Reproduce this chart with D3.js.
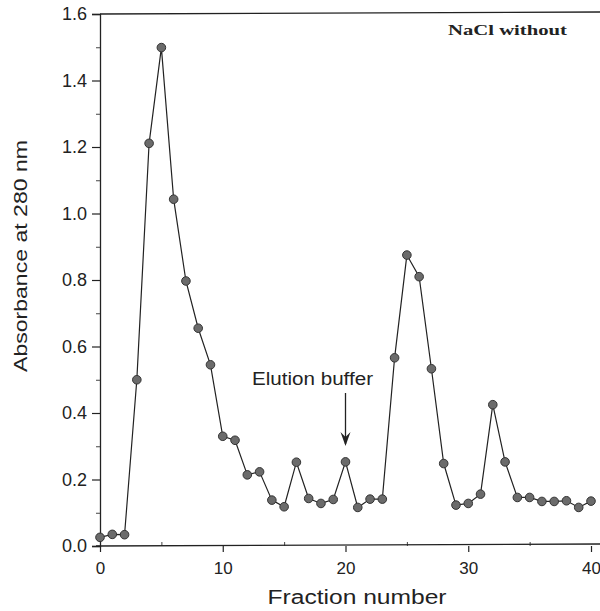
<!DOCTYPE html>
<html>
<head>
<meta charset="utf-8">
<script src="https://cdn.jsdelivr.net/npm/d3@7"></script>
<style>
  html, body { margin: 0; padding: 0; background: #fff; }
  svg { display: block; }
</style>
</head>
<body>
<svg id="chart" width="600" height="611"></svg>
<script>
// ---- data ----
const fractions = d3.range(0, 41);
const absorbance = [
  0.026, 0.035, 0.034, 0.50, 1.211, 1.499, 1.043, 0.797, 0.655, 0.545,
  0.330, 0.318, 0.214, 0.223, 0.138, 0.118, 0.252, 0.143, 0.128, 0.140,
  0.253, 0.116, 0.141, 0.141, 0.566, 0.875, 0.810, 0.533, 0.248, 0.123,
  0.128, 0.156, 0.425, 0.253, 0.146, 0.146, 0.134, 0.134, 0.136, 0.116,
  0.135
];
const xTicks = [0, 10, 20, 30, 40];
const xMinorTicks = [5, 15, 25, 35];
const yTicks = [0.0, 0.2, 0.4, 0.6, 0.8, 1.0, 1.2, 1.4, 1.6];
const yMinorTicks = [0.1, 0.3, 0.5, 0.7, 0.9, 1.1, 1.3, 1.5];
const xTitle = "Fraction number";
const yTitle = "Absorbance at 280 nm";
const panelLabel = "NaCl without";
const annotationText = "Elution buffer";
const annotationFraction = 20;

// ---- layout ----
const svg = d3.select("#chart");
const x = d3.scaleLinear().domain([0, 40]).range([100, 591]);
const y = d3.scaleLinear().domain([0, 1.6]).range([546, 14]);
const font = "Liberation Sans, Arial, Helvetica, sans-serif";

// y axis
const yAxis = svg.append("g").attr("transform", `translate(${x(0)},0)`)
  .call(d3.axisLeft(y).tickValues(yTicks).tickFormat(d3.format(".1f")).tickSize(8).tickPadding(5));
yAxis.select(".domain").attr("stroke", "#222").attr("stroke-width", 1.3);
yAxis.selectAll(".tick line").attr("stroke", "#222").attr("stroke-width", 1.2);
yAxis.selectAll(".tick text").attr("font-family", font).attr("font-size", 18).attr("fill", "#222");
svg.append("g").attr("transform", `translate(${x(0)},0)`)
  .call(d3.axisLeft(y).tickValues(yMinorTicks).tickFormat("").tickSize(4))
  .call(g => g.select(".domain").remove())
  .selectAll("line").attr("stroke", "#444");

// x axis
const xAxis = svg.append("g").attr("transform", `translate(0,${y(0)})`)
  .call(d3.axisBottom(x).tickValues(xTicks).tickFormat(d3.format("d")).tickSize(6).tickPadding(10));
xAxis.select(".domain").remove();
xAxis.selectAll(".tick line").attr("stroke", "#222").attr("stroke-width", 1.2);
xAxis.selectAll(".tick text").attr("font-family", font).attr("font-size", 17).attr("fill", "#222");
svg.append("g").attr("transform", `translate(0,${y(0)})`)
  .call(d3.axisTop(x).tickValues(xMinorTicks).tickFormat("").tickSize(4))
  .call(g => g.select(".domain").remove())
  .selectAll("line").attr("stroke", "#444");
svg.append("line")
  .attr("x1", x(0) - 4).attr("x2", 600).attr("y1", y(0)).attr("y2", y(0) - 2)
  .attr("stroke", "#222").attr("stroke-width", 1.3);

// top frame line
svg.append("line")
  .attr("x1", x(0)).attr("x2", 600).attr("y1", y(1.6)).attr("y2", y(1.6) - 2)
  .attr("stroke", "#222").attr("stroke-width", 1.3);

// axis titles
svg.append("text")
  .attr("x", 357).attr("y", 604)
  .attr("text-anchor", "middle")
  .attr("font-family", font).attr("font-size", 20).attr("fill", "#222")
  .attr("textLength", 179).attr("lengthAdjust", "spacingAndGlyphs")
  .text(xTitle);
svg.append("text")
  .attr("transform", "translate(27,256) rotate(-90)")
  .attr("text-anchor", "middle")
  .attr("font-family", font).attr("font-size", 19).attr("fill", "#222")
  .attr("textLength", 232).attr("lengthAdjust", "spacingAndGlyphs")
  .text(yTitle);

// panel label
svg.append("text")
  .attr("x", 448).attr("y", 35)
  .attr("font-family", "Liberation Serif, Times New Roman, serif")
  .attr("font-weight", "bold").attr("font-size", 15).attr("fill", "#222")
  .attr("textLength", 119).attr("lengthAdjust", "spacingAndGlyphs")
  .text(panelLabel);

// annotation
svg.append("text")
  .attr("x", 252).attr("y", 385)
  .attr("font-family", font).attr("font-size", 18).attr("fill", "#222")
  .attr("textLength", 121).attr("lengthAdjust", "spacingAndGlyphs")
  .text(annotationText);
const ax = x(annotationFraction);
svg.append("line")
  .attr("x1", ax).attr("x2", ax).attr("y1", 393).attr("y2", 444)
  .attr("stroke", "#222").attr("stroke-width", 1.3);
svg.append("path")
  .attr("d", `M${ax - 5},${432} L${ax},${446} L${ax + 5},${432} L${ax},${437} Z`)
  .attr("fill", "#222");

// line
const line = d3.line().x((d, i) => x(fractions[i])).y(d => y(d));
svg.append("path")
  .datum(absorbance)
  .attr("d", line)
  .attr("fill", "none").attr("stroke", "#222").attr("stroke-width", 1.2);

// markers
svg.append("g").selectAll("circle")
  .data(absorbance)
  .join("circle")
  .attr("cx", (d, i) => x(fractions[i]))
  .attr("cy", d => y(d))
  .attr("r", 4.3)
  .attr("fill", "#6b6b6b")
  .attr("stroke", "#333").attr("stroke-width", 1);
</script>
</body>
</html>
